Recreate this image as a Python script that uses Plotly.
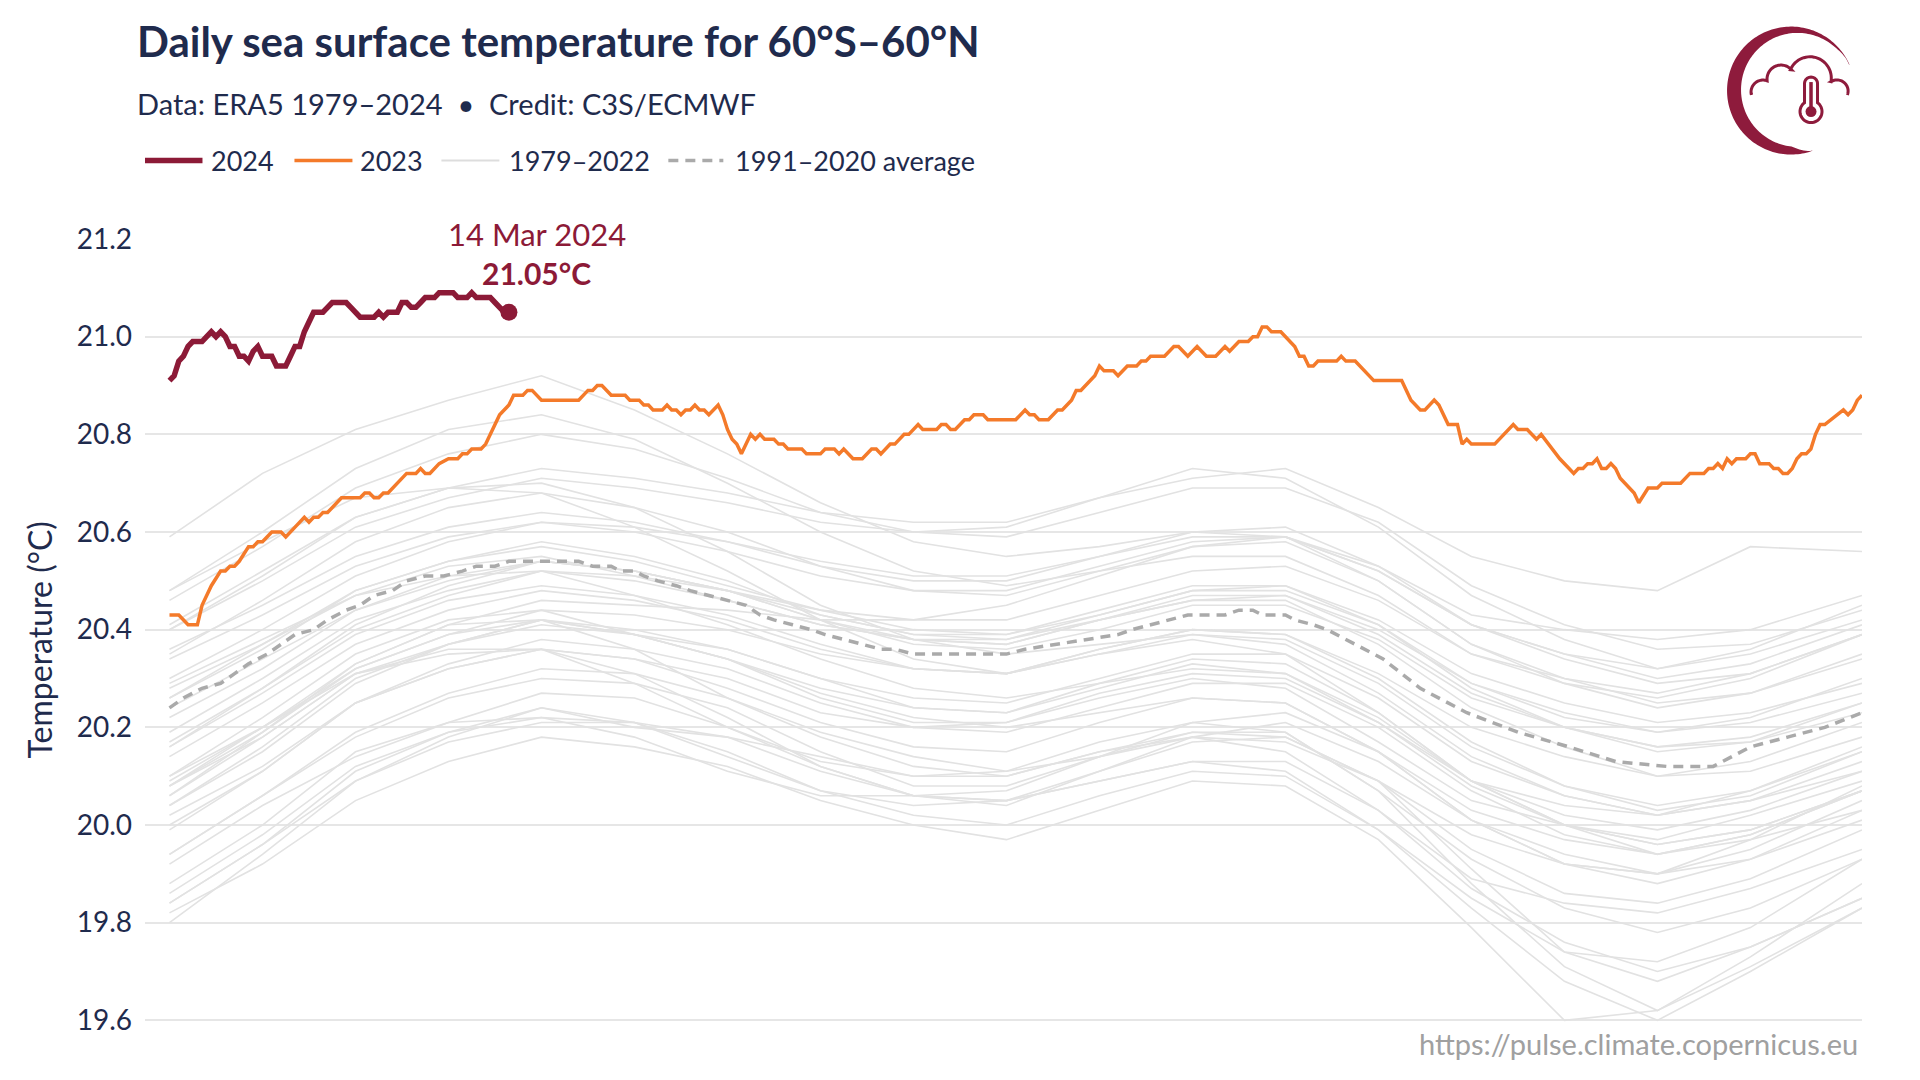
import math
import datetime
import plotly.graph_objects as go

# ---------------- data ----------------
days_2024 = list(range(1, 75))
sst_2024 = [20.91, 20.92, 20.95, 20.96, 20.98, 20.99, 20.99, 20.99, 21.00, 21.01,
            21.00, 21.01, 21.00, 20.98, 20.98, 20.96, 20.96, 20.95, 20.97, 20.98,
            20.96, 20.96, 20.96, 20.94, 20.94, 20.94, 20.96, 20.98, 20.98, 21.01,
            21.03, 21.05, 21.05, 21.05, 21.06, 21.07, 21.07, 21.07, 21.07, 21.06,
            21.05, 21.04, 21.04, 21.04, 21.04, 21.05, 21.04, 21.05, 21.05, 21.05,
            21.07, 21.07, 21.06, 21.06, 21.07, 21.08, 21.08, 21.08, 21.09, 21.09,
            21.09, 21.09, 21.08, 21.08, 21.08, 21.09, 21.08, 21.08, 21.08, 21.08,
            21.07, 21.06, 21.05, 21.05]

days_2023 = [1, 3, 5, 7, 8, 10, 12, 13, 14, 15,
             16, 18, 19, 20, 21, 23, 25, 26, 28, 30,
             31, 32, 33, 34, 35, 38, 42, 43, 44, 45,
             46, 47, 48, 52, 54, 55, 56, 57, 59, 61,
             63, 64, 65, 66, 68, 69, 71, 72, 74, 75,
             77, 78, 79, 81, 89, 91, 92, 93, 94, 96,
             99, 100, 102, 103, 104, 105, 107, 108, 109, 110,
             111, 112, 113, 114, 115, 116, 117, 119, 120, 121,
             122, 123, 124, 125, 126, 127, 128, 129, 131, 132,
             133, 134, 137, 138, 141, 142, 144, 145, 146, 148,
             150, 152, 153, 154, 156, 157, 159, 160, 162, 163,
             166, 167, 168, 169, 170, 172, 173, 174, 176, 177,
             183, 185, 186, 187, 188, 190, 192, 193, 195, 196,
             197, 200, 201, 202, 204, 205, 207, 209, 210, 211,
             212, 215, 217, 218, 220, 222, 224, 226, 228, 229,
             231, 233, 234, 235, 236, 237, 238, 240, 243, 244,
             245, 246, 247, 248, 252, 253, 254, 256, 260, 266,
             267, 268, 270, 271, 273, 274, 276, 278, 279, 280,
             281, 286, 290, 291, 293, 295, 296, 300, 302, 303,
             304, 305, 306, 307, 308, 309, 310, 311, 312, 313,
             316, 317, 319, 321, 322, 326, 328, 331, 332, 333,
             334, 335, 336, 337, 338, 340, 341, 342, 343, 345,
             346, 347, 348, 349, 350, 351, 352, 353, 354, 355,
             356, 357, 361, 362, 363, 364, 365]
sst_2023 = [20.43, 20.43, 20.41, 20.41, 20.45, 20.49, 20.52, 20.52, 20.53, 20.53,
            20.54, 20.57, 20.57, 20.58, 20.58, 20.60, 20.60, 20.59, 20.61, 20.63,
            20.62, 20.63, 20.63, 20.64, 20.64, 20.67, 20.67, 20.68, 20.68, 20.67,
            20.67, 20.68, 20.68, 20.72, 20.72, 20.73, 20.72, 20.72, 20.74, 20.75,
            20.75, 20.76, 20.76, 20.77, 20.77, 20.78, 20.82, 20.84, 20.86, 20.88,
            20.88, 20.89, 20.89, 20.87, 20.87, 20.89, 20.89, 20.90, 20.90, 20.88,
            20.88, 20.87, 20.87, 20.86, 20.86, 20.85, 20.85, 20.86, 20.85, 20.85,
            20.84, 20.85, 20.85, 20.86, 20.85, 20.85, 20.84, 20.86, 20.84, 20.81,
            20.79, 20.78, 20.76, 20.78, 20.80, 20.79, 20.80, 20.79, 20.79, 20.78,
            20.78, 20.77, 20.77, 20.76, 20.76, 20.77, 20.77, 20.76, 20.77, 20.75,
            20.75, 20.77, 20.77, 20.76, 20.78, 20.78, 20.80, 20.80, 20.82, 20.81,
            20.81, 20.82, 20.82, 20.81, 20.81, 20.83, 20.83, 20.84, 20.84, 20.83,
            20.83, 20.85, 20.84, 20.84, 20.83, 20.83, 20.85, 20.85, 20.87, 20.89,
            20.89, 20.92, 20.94, 20.93, 20.93, 20.92, 20.94, 20.94, 20.95, 20.95,
            20.96, 20.96, 20.98, 20.98, 20.96, 20.98, 20.96, 20.96, 20.98, 20.97,
            20.99, 20.99, 21.00, 21.00, 21.02, 21.02, 21.01, 21.01, 20.98, 20.96,
            20.96, 20.94, 20.94, 20.95, 20.95, 20.96, 20.95, 20.95, 20.91, 20.91,
            20.89, 20.87, 20.85, 20.85, 20.87, 20.86, 20.82, 20.82, 20.78, 20.79,
            20.78, 20.78, 20.82, 20.81, 20.81, 20.79, 20.80, 20.75, 20.73, 20.72,
            20.73, 20.73, 20.74, 20.74, 20.75, 20.73, 20.73, 20.74, 20.73, 20.71,
            20.68, 20.66, 20.69, 20.69, 20.70, 20.70, 20.72, 20.72, 20.73, 20.73,
            20.74, 20.73, 20.75, 20.74, 20.75, 20.75, 20.76, 20.76, 20.74, 20.74,
            20.73, 20.73, 20.72, 20.72, 20.73, 20.75, 20.76, 20.76, 20.77, 20.80,
            20.82, 20.82, 20.85, 20.84, 20.85, 20.87, 20.88]

avg_days = [1, 4, 8, 12, 15, 18, 22, 25, 28, 32,
            35, 39, 42, 45, 49, 52, 56, 60, 64, 67,
            71, 74, 89, 92, 96, 98, 101, 103, 106, 110,
            113, 117, 121, 125, 128, 131, 135, 139, 142, 146,
            150, 154, 157, 161, 170, 181, 185, 192, 198, 205,
            208, 212, 216, 220, 228, 231, 234, 236, 241, 243,
            247, 250, 254, 262, 270, 280, 291, 302, 312, 323,
            333, 341, 349, 357, 365]
avg_sst = [20.24, 20.26, 20.28, 20.29, 20.31, 20.33, 20.35, 20.37, 20.39, 20.40,
           20.42, 20.44, 20.45, 20.47, 20.48, 20.50, 20.51, 20.51, 20.52, 20.53,
           20.53, 20.54, 20.54, 20.53, 20.53, 20.52, 20.52, 20.51, 20.50, 20.49,
           20.48, 20.47, 20.46, 20.45, 20.43, 20.42, 20.41, 20.40, 20.39, 20.38,
           20.37, 20.36, 20.36, 20.35, 20.35, 20.35, 20.36, 20.37, 20.38, 20.39,
           20.40, 20.41, 20.42, 20.43, 20.43, 20.44, 20.44, 20.43, 20.43, 20.42,
           20.41, 20.40, 20.38, 20.34, 20.28, 20.23, 20.19, 20.16, 20.13, 20.12,
           20.12, 20.16, 20.18, 20.20, 20.23]

gray_days = [1, 21, 41, 61, 81, 101, 121, 141, 161, 181, 201, 221, 241, 261, 281, 301, 321, 341, 365]
gray_years = list(range(1979, 2023))
gray_sst = [
    [19.80, 19.94, 20.09, 20.18, 20.24, 20.20, 20.18, 20.11, 20.06, 20.04, 20.11, 20.17, 20.18, 20.09, 19.91, 19.74, 19.72, 19.79, 19.93],
    [19.94, 20.06, 20.18, 20.26, 20.30, 20.29, 20.24, 20.15, 20.08, 20.08, 20.14, 20.19, 20.19, 20.07, 19.88, 19.71, 19.62, 19.73, 19.88],
    [19.88, 20.00, 20.15, 20.21, 20.27, 20.26, 20.20, 20.13, 20.10, 20.11, 20.17, 20.21, 20.19, 20.07, 19.93, 19.83, 19.78, 19.83, 19.93],
    [19.92, 20.04, 20.14, 20.21, 20.22, 20.18, 20.11, 20.06, 20.06, 20.07, 20.14, 20.21, 20.23, 20.15, 20.01, 19.92, 19.90, 19.97, 20.08],
    [20.06, 20.19, 20.33, 20.41, 20.42, 20.36, 20.26, 20.18, 20.12, 20.10, 20.15, 20.18, 20.15, 20.03, 19.87, 19.76, 19.70, 19.75, 19.85],
    [19.86, 19.98, 20.12, 20.19, 20.22, 20.21, 20.15, 20.07, 20.02, 20.00, 20.06, 20.11, 20.10, 19.99, 19.83, 19.68, 19.60, 19.70, 19.83],
    [19.82, 19.92, 20.05, 20.13, 20.18, 20.16, 20.12, 20.05, 20.00, 19.97, 20.03, 20.09, 20.08, 19.97, 19.79, 19.60, 19.62, 19.71, 19.83],
    [19.84, 19.96, 20.11, 20.19, 20.24, 20.21, 20.14, 20.07, 20.04, 20.05, 20.11, 20.18, 20.21, 20.13, 20.01, 19.92, 19.90, 19.95, 20.05],
    [20.04, 20.16, 20.30, 20.37, 20.42, 20.39, 20.36, 20.30, 20.24, 20.23, 20.29, 20.34, 20.33, 20.23, 20.09, 20.00, 19.94, 19.98, 20.07],
    [20.06, 20.18, 20.31, 20.36, 20.36, 20.31, 20.22, 20.12, 20.06, 20.05, 20.09, 20.13, 20.11, 19.99, 19.85, 19.74, 19.68, 19.75, 19.85],
    [19.84, 19.96, 20.09, 20.17, 20.21, 20.21, 20.18, 20.14, 20.10, 20.10, 20.15, 20.19, 20.18, 20.09, 19.95, 19.86, 19.84, 19.89, 19.99],
    [19.99, 20.11, 20.25, 20.33, 20.38, 20.36, 20.32, 20.25, 20.20, 20.19, 20.24, 20.29, 20.29, 20.20, 20.07, 19.98, 19.94, 19.97, 20.03],
    [20.04, 20.15, 20.29, 20.37, 20.42, 20.39, 20.34, 20.26, 20.21, 20.21, 20.26, 20.30, 20.28, 20.17, 20.05, 20.00, 19.97, 20.02, 20.09],
    [20.09, 20.20, 20.31, 20.35, 20.36, 20.29, 20.20, 20.12, 20.06, 20.05, 20.09, 20.13, 20.13, 20.03, 19.89, 19.84, 19.82, 19.87, 19.95],
    [19.94, 20.06, 20.19, 20.27, 20.32, 20.31, 20.26, 20.19, 20.14, 20.11, 20.14, 20.18, 20.17, 20.09, 19.98, 19.92, 19.88, 19.93, 20.03],
    [20.02, 20.12, 20.25, 20.32, 20.36, 20.34, 20.30, 20.23, 20.20, 20.21, 20.27, 20.31, 20.30, 20.21, 20.09, 20.04, 20.02, 20.05, 20.11],
    [20.10, 20.22, 20.35, 20.42, 20.44, 20.39, 20.34, 20.27, 20.22, 20.20, 20.23, 20.26, 20.25, 20.15, 20.01, 19.94, 19.90, 19.93, 20.01],
    [20.00, 20.11, 20.25, 20.32, 20.36, 20.34, 20.28, 20.21, 20.16, 20.15, 20.21, 20.26, 20.25, 20.15, 20.03, 19.97, 19.94, 19.98, 20.07],
    [20.08, 20.20, 20.33, 20.41, 20.46, 20.45, 20.44, 20.42, 20.42, 20.45, 20.51, 20.57, 20.59, 20.53, 20.43, 20.40, 20.38, 20.40, 20.47],
    [20.48, 20.58, 20.67, 20.69, 20.68, 20.61, 20.52, 20.42, 20.34, 20.31, 20.35, 20.38, 20.35, 20.23, 20.09, 20.00, 19.96, 19.99, 20.07],
    [20.08, 20.18, 20.31, 20.37, 20.41, 20.39, 20.34, 20.28, 20.24, 20.23, 20.28, 20.33, 20.31, 20.21, 20.08, 20.00, 19.96, 19.99, 20.07],
    [20.08, 20.19, 20.32, 20.39, 20.42, 20.40, 20.36, 20.30, 20.26, 20.25, 20.30, 20.35, 20.35, 20.26, 20.13, 20.06, 20.02, 20.07, 20.15],
    [20.16, 20.27, 20.39, 20.46, 20.49, 20.47, 20.43, 20.37, 20.32, 20.31, 20.36, 20.40, 20.39, 20.31, 20.20, 20.14, 20.10, 20.13, 20.21],
    [20.22, 20.32, 20.44, 20.51, 20.54, 20.52, 20.48, 20.42, 20.38, 20.37, 20.42, 20.46, 20.47, 20.40, 20.29, 20.22, 20.19, 20.21, 20.27],
    [20.28, 20.37, 20.47, 20.53, 20.55, 20.51, 20.46, 20.41, 20.38, 20.37, 20.42, 20.47, 20.47, 20.39, 20.27, 20.20, 20.16, 20.17, 20.23],
    [20.24, 20.34, 20.44, 20.50, 20.54, 20.52, 20.48, 20.42, 20.37, 20.36, 20.40, 20.45, 20.45, 20.38, 20.26, 20.20, 20.16, 20.18, 20.25],
    [20.26, 20.37, 20.48, 20.54, 20.58, 20.55, 20.50, 20.43, 20.39, 20.38, 20.42, 20.46, 20.46, 20.37, 20.24, 20.16, 20.10, 20.11, 20.18],
    [20.19, 20.30, 20.42, 20.48, 20.52, 20.50, 20.46, 20.41, 20.38, 20.38, 20.43, 20.48, 20.49, 20.42, 20.31, 20.25, 20.21, 20.23, 20.29],
    [20.29, 20.38, 20.47, 20.51, 20.52, 20.47, 20.41, 20.34, 20.28, 20.26, 20.29, 20.32, 20.31, 20.22, 20.09, 20.02, 19.99, 20.03, 20.11],
    [20.10, 20.20, 20.32, 20.39, 20.44, 20.43, 20.40, 20.35, 20.32, 20.31, 20.36, 20.40, 20.39, 20.30, 20.17, 20.08, 20.04, 20.07, 20.16],
    [20.17, 20.28, 20.40, 20.47, 20.52, 20.51, 20.48, 20.44, 20.42, 20.42, 20.47, 20.52, 20.53, 20.46, 20.35, 20.30, 20.27, 20.31, 20.39],
    [20.40, 20.51, 20.63, 20.69, 20.70, 20.65, 20.56, 20.45, 20.38, 20.35, 20.37, 20.39, 20.37, 20.27, 20.14, 20.06, 20.02, 20.05, 20.13],
    [20.14, 20.25, 20.37, 20.44, 20.48, 20.46, 20.42, 20.36, 20.32, 20.31, 20.35, 20.39, 20.38, 20.29, 20.16, 20.08, 20.03, 20.06, 20.15],
    [20.16, 20.28, 20.41, 20.49, 20.54, 20.52, 20.48, 20.43, 20.39, 20.39, 20.44, 20.49, 20.49, 20.41, 20.28, 20.20, 20.15, 20.17, 20.25],
    [20.26, 20.36, 20.48, 20.54, 20.57, 20.54, 20.49, 20.44, 20.40, 20.39, 20.43, 20.48, 20.48, 20.41, 20.29, 20.23, 20.19, 20.22, 20.30],
    [20.30, 20.40, 20.51, 20.58, 20.62, 20.61, 20.58, 20.54, 20.51, 20.51, 20.55, 20.59, 20.59, 20.52, 20.41, 20.35, 20.30, 20.33, 20.41],
    [20.41, 20.52, 20.63, 20.69, 20.73, 20.71, 20.68, 20.64, 20.62, 20.62, 20.67, 20.71, 20.73, 20.65, 20.55, 20.50, 20.48, 20.57, 20.56],
    [20.59, 20.72, 20.81, 20.87, 20.92, 20.85, 20.76, 20.66, 20.58, 20.55, 20.57, 20.60, 20.59, 20.50, 20.37, 20.30, 20.25, 20.27, 20.34],
    [20.35, 20.46, 20.58, 20.65, 20.68, 20.65, 20.60, 20.53, 20.48, 20.47, 20.52, 20.57, 20.58, 20.50, 20.37, 20.29, 20.24, 20.27, 20.35],
    [20.34, 20.43, 20.53, 20.59, 20.62, 20.60, 20.56, 20.51, 20.48, 20.48, 20.53, 20.58, 20.59, 20.52, 20.41, 20.35, 20.32, 20.36, 20.45],
    [20.46, 20.57, 20.69, 20.76, 20.80, 20.77, 20.71, 20.64, 20.60, 20.59, 20.64, 20.69, 20.69, 20.62, 20.49, 20.41, 20.36, 20.37, 20.44],
    [20.48, 20.60, 20.73, 20.81, 20.84, 20.79, 20.70, 20.60, 20.52, 20.49, 20.52, 20.55, 20.55, 20.47, 20.35, 20.29, 20.26, 20.30, 20.39],
    [20.36, 20.45, 20.55, 20.61, 20.64, 20.62, 20.58, 20.53, 20.50, 20.50, 20.55, 20.60, 20.61, 20.53, 20.41, 20.34, 20.29, 20.31, 20.39],
    [20.40, 20.50, 20.61, 20.67, 20.71, 20.69, 20.66, 20.62, 20.60, 20.61, 20.67, 20.73, 20.71, 20.61, 20.47, 20.38, 20.32, 20.35, 20.42],
]

y_ticks = [19.6, 19.8, 20.0, 20.2, 20.4, 20.6, 20.8, 21.0, 21.2]
legend_labels = ["2024", "2023", "1979–2022", "1991–2020 average"]

assert len(days_2024) == len(sst_2024)
assert len(days_2023) == len(sst_2023)
assert len(avg_days) == len(avg_sst)
assert all(len(v) == len(gray_days) for v in gray_sst)

# ---------------- styles ----------------
CRIMSON = "#8c1a37"
ORANGE = "#f47a2a"
GRAY = "#e2e2e2"
AVG = "#aaaaaa"
NAVY = "#1f2b4d"
FONT = "Lato"

W, H = 1920, 1080
L, R, T, B = 144.5, 1862.0, 239.0, 1035.3
Y_RANGE = [19.57, 21.2]
X0 = 1 - (169.0 - L) / ((R - L) / 369.27)


def fx(px):
    return (px - L) / (R - L)


def fy(py):
    return (B - py) / (B - T)


def pt(px, py):
    return f"{fx(px):.5f},{fy(py):.5f}"


fig = go.Figure()

for yr, vals in zip(gray_years, gray_sst):
    fig.add_trace(go.Scatter(x=gray_days, y=vals, mode="lines", name=str(yr),
                             line=dict(color=GRAY, width=1.6), hoverinfo="skip"))

fig.add_trace(go.Scatter(x=avg_days, y=avg_sst, mode="lines", name=legend_labels[3],
                         line=dict(color=AVG, width=3.5, dash="10px,7px")))
fig.add_trace(go.Scatter(x=days_2023, y=sst_2023, mode="lines", name=legend_labels[1],
                         line=dict(color=ORANGE, width=3.5)))
fig.add_trace(go.Scatter(x=days_2024, y=sst_2024, mode="lines", name=legend_labels[0],
                         line=dict(color=CRIMSON, width=5.5)))
fig.add_trace(go.Scatter(x=[days_2024[-1]], y=[sst_2024[-1]], mode="markers",
                         marker=dict(color=CRIMSON, size=17), name="latest"))

last_date = datetime.date(2024, 1, 1) + datetime.timedelta(days=days_2024[-1] - 1)
date_label = f"{last_date.day} {last_date.strftime('%b')} {last_date.year}"

annotations = [
    dict(text="<b>Daily sea surface temperature for 60°S–60°N</b>", x=fx(134), y=fy(41),
         xanchor="left", yanchor="middle", font=dict(size=42, color=NAVY)),
    dict(text="Data: ERA5 1979–2024  •  Credit: C3S/ECMWF", x=fx(134), y=fy(103),
         xanchor="left", yanchor="middle", font=dict(size=29, color=NAVY)),
    dict(text="Temperature (°C)", x=fx(39), y=fy(640), textangle=-90,
         xanchor="center", yanchor="middle", font=dict(size=32, color=NAVY)),
    dict(text="https://pulse.climate.copernicus.eu", x=fx(1860), y=fy(1044),
         xanchor="right", yanchor="middle", font=dict(size=29, color="#a0a0a0")),
    dict(text=date_label, x=days_2024[-1], y=sst_2024[-1], xref="x", yref="y",
         xshift=28, yshift=78, xanchor="center", yanchor="middle",
         font=dict(size=31, color=CRIMSON)),
    dict(text=f"<b>{sst_2024[-1]:.2f}°C</b>", x=days_2024[-1], y=sst_2024[-1], xref="x", yref="y",
         xshift=28, yshift=39, xanchor="center", yanchor="middle",
         font=dict(size=30, color=CRIMSON)),
]
legend_text_x = [209, 358, 507, 733]
for lab, lx in zip(legend_labels, legend_text_x):
    annotations.append(dict(text=lab, x=fx(lx), y=fy(160), xanchor="left", yanchor="middle",
                            font=dict(size=27, color=NAVY)))
for a in annotations:
    a.setdefault("xref", "paper")
    a.setdefault("yref", "paper")
    a["showarrow"] = False

shapes = []
LEG_Y = fy(160.5)
for (x0, x1), col, wd, dsh in [((144.5, 202), CRIMSON, 5.5, "solid"),
                               ((294, 352), ORANGE, 3.5, "solid"),
                               ((441, 499), "#dddddd", 2, "solid"),
                               ((668, 723), AVG, 3.5, "10px,7px")]:
    shapes.append(dict(type="line", xref="paper", yref="paper", x0=fx(x0), x1=fx(x1),
                       y0=LEG_Y, y1=LEG_Y, line=dict(color=col, width=wd, dash=dsh)))

# ---- logo ----
LOGO = "#8e1b3c"
cx, cy, RR = 1791.0, 90.5, 64.0
th1, th2 = math.radians(-24), math.radians(-289.5)
N = 140
outer, inner = [], []
for i in range(N + 1):
    th = th1 + (th2 - th1) * i / N
    t = 7.35 - (6.65 * math.cos(th) - 0.65 * math.sin(th))
    taper = min(1.0, (th1 - th) / math.radians(18), (th - th2) / math.radians(18))
    t = max(0.4, t * taper)
    outer.append((cx + RR * math.cos(th), cy + RR * math.sin(th)))
    inner.append((cx + (RR - t) * math.cos(th), cy + (RR - t) * math.sin(th)))
path = "M" + " L".join(pt(*p) for p in outer) + " L" + " L".join(pt(*p) for p in inner[::-1]) + " Z"
shapes.append(dict(type="path", xref="paper", yref="paper", path=path,
                   fillcolor=LOGO, line=dict(width=0)))


def arc(c, r, a0, a1, n=30):
    return [(c[0] + r * math.cos(math.radians(a0 + (a1 - a0) * k / n)),
             c[1] + r * math.sin(math.radians(a0 + (a1 - a0) * k / n))) for k in range(n + 1)]


cloud = (arc((1763, 92), 12, 166, 290) + arc((1781, 79), 14, 180, 319) +
         arc((1810, 78), 21.3, 203, 370) + arc((1837, 91), 11.1, 237, 381))
shapes.append(dict(type="path", xref="paper", yref="paper",
                   path="M" + " L".join(pt(*p) for p in cloud),
                   fillcolor="rgba(0,0,0,0)", line=dict(color=LOGO, width=3)))

tx, hw, ty, bc, br = 1811.0, 6.5, 83.5, 111.5, 11.0
jy = bc - math.sqrt(br ** 2 - hw ** 2)
ja = math.degrees(math.atan2(jy - bc, hw))
thermo = ([(tx - hw, jy)] + arc((tx, ty), hw, 180, 360, 20) + [(tx + hw, jy)] +
          arc((tx, bc), br, ja, 180 - ja, 40))
shapes.append(dict(type="path", xref="paper", yref="paper",
                   path="M" + " L".join(pt(*p) for p in thermo) + " Z",
                   fillcolor="rgba(0,0,0,0)", line=dict(color=LOGO, width=3)))
shapes.append(dict(type="line", xref="paper", yref="paper", x0=fx(tx), x1=fx(tx),
                   y0=fy(82), y1=fy(108), line=dict(color=LOGO, width=3.5)))
shapes.append(dict(type="circle", xref="paper", yref="paper", x0=fx(tx - 5.5), x1=fx(tx + 5.5),
                   y0=fy(bc + 5.5), y1=fy(bc - 5.5), fillcolor=LOGO, line=dict(width=0)))

fig.update_layout(
    width=W, height=H,
    margin=dict(l=L, r=W - R, t=T, b=H - B, autoexpand=False),
    paper_bgcolor="white", plot_bgcolor="white",
    showlegend=False,
    font=dict(family=FONT, color=NAVY),
    xaxis=dict(range=[X0, 365], visible=False),
    yaxis=dict(range=Y_RANGE, tickvals=y_ticks, ticktext=[f"{v:.1f}" for v in y_ticks],
               showgrid=True, gridcolor="#e6e6e6", gridwidth=2, zeroline=False,
               showline=False, ticks="", ticklabelstandoff=12,
               tickfont=dict(family=FONT, size=28, color=NAVY)),
    annotations=annotations,
    shapes=shapes,
)

fig.write_html("out.html", config={"displayModeBar": False},
               post_script="document.body.style.margin='0';")
